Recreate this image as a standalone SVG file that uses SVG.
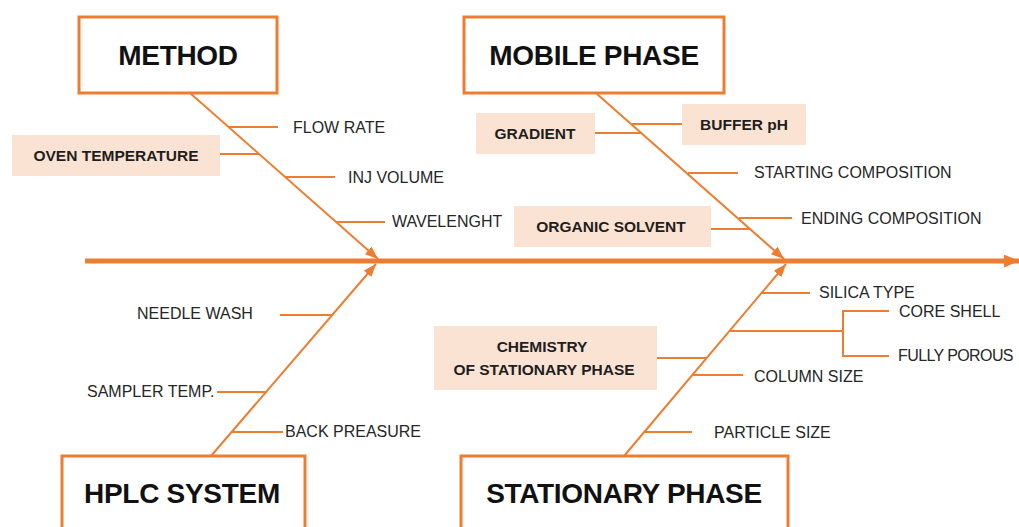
<svg xmlns="http://www.w3.org/2000/svg" width="1019" height="527" viewBox="0 0 1019 527">
<style>
.ln{stroke:#ED7D31;stroke-width:2;fill:none}
.title{fill:#fff;stroke:#ED7D31;stroke-width:3}
.tt{font-family:"Liberation Sans",Arial,sans-serif;font-weight:bold;font-size:28px;fill:#111;text-anchor:middle;letter-spacing:-0.3px}
.cb{fill:#FBE3D4}
.bt{font-family:"Liberation Sans",Arial,sans-serif;font-weight:bold;font-size:15.5px;fill:#1e1e1e;text-anchor:middle}
.lt{font-family:"Liberation Sans",Arial,sans-serif;font-size:16px;fill:#262626}
</style>
<defs>
<marker id="ah" markerUnits="userSpaceOnUse" markerWidth="14" markerHeight="12" refX="13" refY="5" orient="auto"><path d="M0,0 L13,5 L0,10 z" fill="#ED7D31"/></marker>
<marker id="ahm" markerUnits="userSpaceOnUse" markerWidth="16" markerHeight="14" refX="15" refY="6.5" orient="auto"><path d="M0,0 L15,6.5 L0,13 z" fill="#ED7D31"/></marker>
</defs>
<g id="connectors">
<line x1="85" y1="261" x2="1019" y2="261" stroke="#ED7D31" stroke-width="5" marker-end="url(#ahm)"/>
<line class="ln" x1="190" y1="93" x2="378" y2="259" marker-end="url(#ah)"/>
<line class="ln" x1="211" y1="456" x2="376" y2="264" marker-end="url(#ah)"/>
<line class="ln" x1="597" y1="94" x2="784" y2="259" marker-end="url(#ah)"/>
<line class="ln" x1="624" y1="456" x2="786" y2="264" marker-end="url(#ah)"/>
<line class="ln" x1="229" y1="127" x2="278" y2="127"/>
<line class="ln" x1="220" y1="154" x2="259" y2="154"/>
<line class="ln" x1="285" y1="177" x2="335" y2="177"/>
<line class="ln" x1="336" y1="222" x2="385" y2="222"/>
<line class="ln" x1="632" y1="124" x2="682" y2="124"/>
<line class="ln" x1="595" y1="133" x2="641" y2="133"/>
<line class="ln" x1="688" y1="173" x2="738" y2="173"/>
<line class="ln" x1="739" y1="218" x2="792" y2="218"/>
<line class="ln" x1="711" y1="229" x2="750" y2="229"/>
<line class="ln" x1="280" y1="315" x2="332" y2="315"/>
<line class="ln" x1="217" y1="392" x2="266" y2="392"/>
<line class="ln" x1="232" y1="432" x2="283" y2="432"/>
<line class="ln" x1="761" y1="293" x2="810" y2="293"/>
<line class="ln" x1="729" y1="331" x2="843" y2="331"/>
<path class="ln" d="M889,311 H843 V356 H889"/>
<line class="ln" x1="657" y1="358" x2="706" y2="358"/>
<line class="ln" x1="692" y1="375" x2="743" y2="375"/>
<line class="ln" x1="644" y1="432" x2="692" y2="432"/>
</g>
<g id="method"><rect class="title" x="79" y="17" width="198" height="76"/><text class="tt" x="178" y="65">METHOD</text></g>
<g id="mobile-phase"><rect class="title" x="464" y="17" width="260" height="76"/><text class="tt" x="594" y="65">MOBILE PHASE</text></g>
<g id="hplc-system"><rect class="title" x="62" y="456" width="243" height="90"/><text class="tt" x="182" y="503">HPLC SYSTEM</text></g>
<g id="stationary-phase"><rect class="title" x="461" y="456" width="327" height="90"/><text class="tt" x="624" y="503">STATIONARY PHASE</text></g>
<g id="oven-temperature"><rect class="cb" x="12" y="135" width="208" height="41"/><text class="bt" x="116" y="161">OVEN TEMPERATURE</text></g>
<g id="gradient"><rect class="cb" x="476" y="113" width="119" height="41"/><text class="bt" x="535" y="139">GRADIENT</text></g>
<g id="buffer-ph"><rect class="cb" x="682" y="104" width="124" height="41"/><text class="bt" x="744" y="130">BUFFER pH</text></g>
<g id="organic-solvent"><rect class="cb" x="514" y="206" width="197" height="41"/><text class="bt" x="611" y="232">ORGANIC SOLVENT</text></g>
<g id="chemistry"><rect class="cb" x="434" y="326" width="223" height="64"/><text class="bt" x="542" y="352">CHEMISTRY</text><text class="bt" x="544" y="375">OF STATIONARY PHASE</text></g>
<g id="flow-rate"><text class="lt" x="293" y="133">FLOW RATE</text></g>
<g id="inj-volume"><text class="lt" x="348" y="183">INJ VOLUME</text></g>
<g id="wavelenght"><text class="lt" x="392" y="227">WAVELENGHT</text></g>
<g id="starting-composition"><text class="lt" x="754" y="178">STARTING COMPOSITION</text></g>
<g id="ending-composition"><text class="lt" x="801" y="224">ENDING COMPOSITION</text></g>
<g id="needle-wash"><text class="lt" x="137" y="319">NEEDLE WASH</text></g>
<g id="sampler-temp"><text class="lt" x="87" y="397">SAMPLER TEMP.</text></g>
<g id="back-preasure"><text class="lt" x="285" y="437">BACK PREASURE</text></g>
<g id="silica-type"><text class="lt" x="819" y="298">SILICA TYPE</text></g>
<g id="core-shell"><text class="lt" x="899" y="317">CORE SHELL</text></g>
<g id="fully-porous"><text class="lt" x="898" y="361" style="letter-spacing:-0.6px">FULLY POROUS</text></g>
<g id="column-size"><text class="lt" x="754" y="382">COLUMN SIZE</text></g>
<g id="particle-size"><text class="lt" x="714" y="438">PARTICLE SIZE</text></g>
</svg>
